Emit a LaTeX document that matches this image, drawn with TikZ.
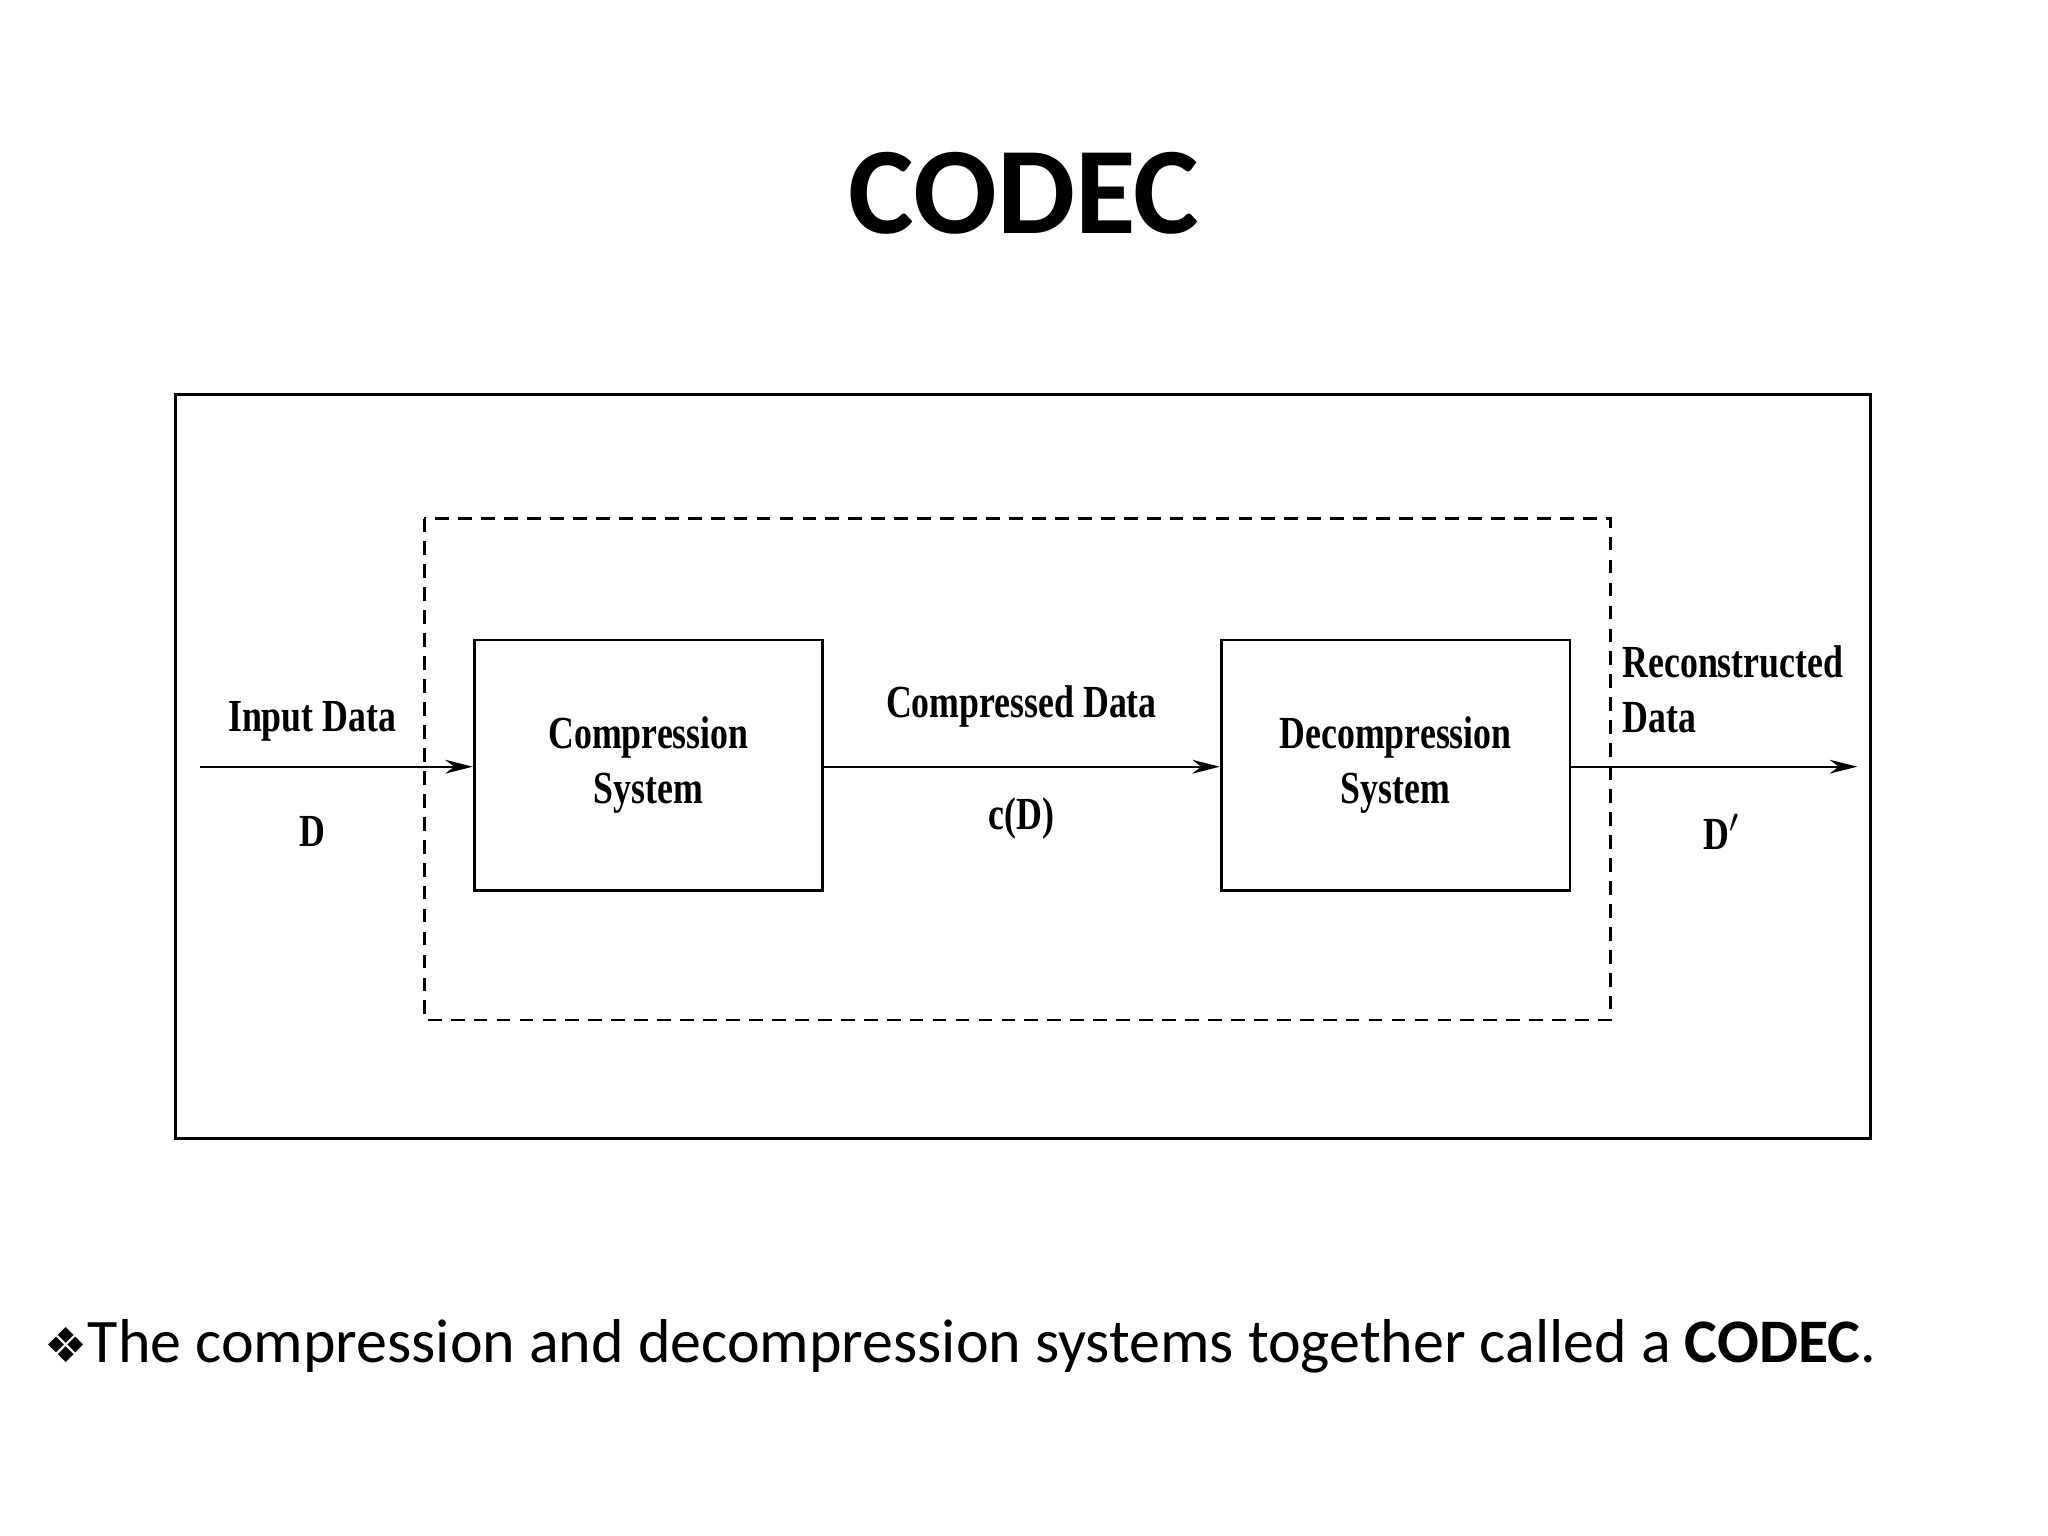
\documentclass[tikz,border=0pt]{standalone}
\usepackage{fontspec}
\setmainfont{Liberation Serif}
\newfontfamily\condfnt[FakeStretch=0.78]{Liberation Serif}
\newfontfamily\calfnt{Carlito}
\newfontfamily\djv{DejaVu Sans}
\usetikzlibrary{arrows.meta}
\begin{document}
\begin{tikzpicture}[x=0.02cm,y=-0.02cm,
  blk/.style={draw,line width=1.2pt,minimum width=5.34cm,minimum height=3.84cm,align=center,font=\condfnt\fontsize{20}{24}\selectfont\bfseries},
  lbl/.style={font=\condfnt\fontsize{20}{24}\selectfont\bfseries},
  arr/.style={line width=1pt,-{Stealth[length=12pt,width=6pt]}}]
\useasboundingbox (0,0) rectangle (1568,1176);
\node[font=\calfnt\bfseries\fontsize{54}{62}\selectfont] (title) at (784,148) {CODEC};
\draw[line width=1.3pt] (134,302) rectangle (1432,872);
\draw[line width=1.2pt,dashed,dash pattern=on 6pt off 4pt] (325,397) rectangle (1233,781);
\node[blk] (comp) at (496.5,586) {Compression\\System};
\node[blk] (dec) at (1068.5,586) {Decompression\\System};
\coordinate (in) at (153,587);
\coordinate (out) at (1422,587);
\draw[arr] (in) -- (comp.west |- in);
\draw[arr] (comp.east |- in) -- (dec.west |- in);
\draw[arr] (dec.east |- in) -- (out);
\node[lbl] (l1) at (239,552) {Input Data};
\node[lbl] (l2) at (239,637) {D};
\node[lbl] (l3) at (782,541) {Compressed Data};
\node[lbl] (l4) at (782,627) {c(D)};
\node[lbl,anchor=west,align=left] (l5) at (1236,528) {Reconstructed\\Data};
\node[lbl] (l6) at (1318,637) {D$^{\prime}$};
\node[anchor=west,font=\calfnt\fontsize{27}{32}\selectfont] (bul) at (28,1031) {{\djv\fontsize{21}{26}\selectfont ❖}The compression and decompression systems together called a \textbf{CODEC}.};
\end{tikzpicture}
\end{document}
